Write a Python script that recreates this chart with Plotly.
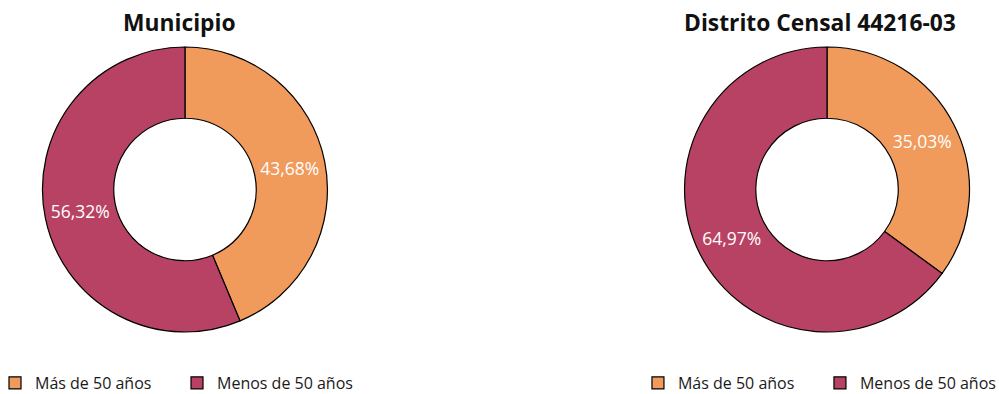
import plotly.graph_objects as go

labels = ["Más de 50 años", "Menos de 50 años"]
municipio_vals = [43.68, 56.32]
distrito_vals = [35.03, 64.97]
titles = ["Municipio", "Distrito Censal 44216-03"]
colors = ["#F09A5B", "#B84263"]

font = "Open Sans"

fig = go.Figure()
common = dict(
    hole=0.5,
    sort=False,
    direction="clockwise",
    rotation=0,
    marker=dict(colors=colors, line=dict(color="#000000", width=1.2)),
    textposition="inside",
    insidetextorientation="horizontal",
    texttemplate="%{percent:.2%}",
    textfont=dict(color="white", size=17.5, family=font),
    hoverinfo="label+percent",
)
fig.add_trace(go.Pie(labels=labels, values=municipio_vals, name=titles[0],
                     domain=dict(x=[0.042, 0.3283], y=[0.1574, 0.8807]),
                     legend="legend", **common))
# non-breaking space keeps the second pie's legend entries separate from the first
fig.add_trace(go.Pie(labels=[l + "\u00a0" for l in labels], values=distrito_vals, name=titles[1],
                     domain=dict(x=[0.6847, 0.971], y=[0.1574, 0.8807]),
                     legend="legend2", **common))

leg_common = dict(orientation="h", yanchor="middle", y=0.028, xanchor="left",
                  font=dict(size=16, family=font, color="#1a1a1a"),
                  bgcolor="rgba(0,0,0,0)", entrywidth=137, entrywidthmode="pixels",
                  itemclick=False, itemdoubleclick=False)
fig.update_layout(
    width=999, height=394,
    margin=dict(l=0, r=0, t=0, b=0, autoexpand=False),
    paper_bgcolor="white",
    separators=",.",
    font=dict(family=font),
    legend=dict(x=-0.005, **leg_common),
    legend2=dict(x=0.6386, **leg_common),
    annotations=[
        dict(text="<b>%s</b>" % titles[0], x=179/999, y=1-22/394, xref="paper", yref="paper",
             showarrow=False, font=dict(size=22.8, family=font, color="#111111"),
             xanchor="center", yanchor="middle"),
        dict(text="<b>%s</b>" % titles[1], x=820/999, y=1-22/394, xref="paper", yref="paper",
             showarrow=False, font=dict(size=22.8, family=font, color="#111111"),
             xanchor="center", yanchor="middle"),
    ],
)
fig.write_html("out.html", config={"displayModeBar": False},
               post_script="document.body.style.margin='0px';document.body.style.overflow='hidden';")
